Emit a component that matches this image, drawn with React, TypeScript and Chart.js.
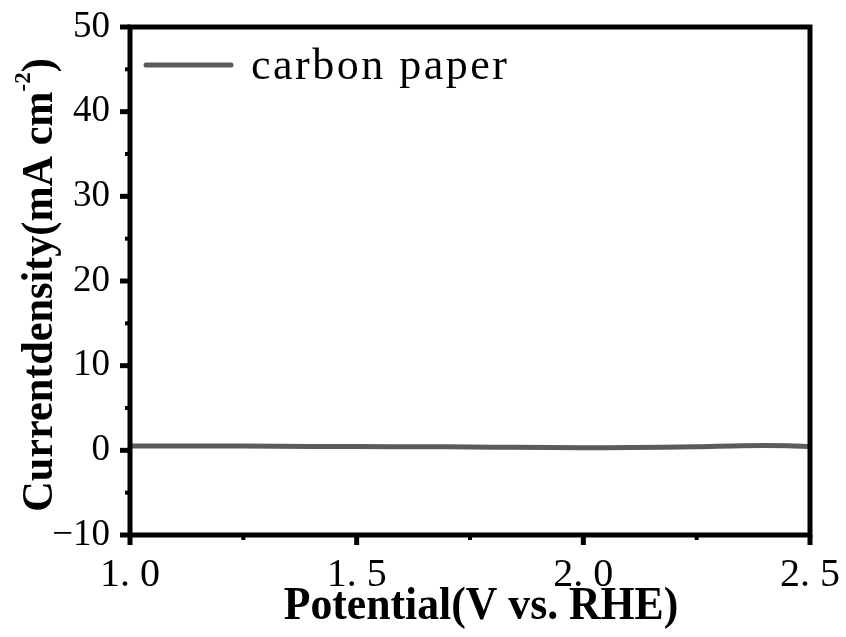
import React, { useEffect, useRef } from "react";
import { Chart, registerables } from "chart.js";

Chart.register(...registerables);

const potential = [1.0, 1.1, 1.25, 1.4, 1.5, 1.65, 1.75, 1.85, 2.0, 2.1, 2.25, 2.35, 2.45, 2.5];
const currentDensity = [0.5, 0.5, 0.5, 0.45, 0.45, 0.42, 0.4, 0.35, 0.3, 0.32, 0.42, 0.55, 0.55, 0.45];
const xTickLabels = ["1. 0", "1. 5", "2. 0", "2. 5"];
const yTickLabels = ["\u221210", "0", "10", "20", "30", "40", "50"];
const seriesName = "carbon paper";
const xTitle = "Potential(V vs. RHE)";
const yTitleMain = "Currentdensity(mA cm";
const yTitleSup = "-2";
const yTitleEnd = ")";

const framePlugin = {
  id: "framePlugin",
  afterDraw(chart: any) {
    const { ctx, chartArea } = chart;
    const { left, right, top, bottom } = chartArea;
    const xs = chart.scales.x;
    const ys = chart.scales.y;
    ctx.save();
    // ticks
    ctx.strokeStyle = "#000";
    ctx.lineCap = "butt";
    for (let v = -10; v <= 50; v += 5) {
      const p = ys.getPixelForValue(v);
      const major = v % 10 === 0;
      ctx.lineWidth = major ? 5 : 4;
      ctx.beginPath();
      ctx.moveTo(left - (major ? 10 : 5), p);
      ctx.lineTo(left, p);
      ctx.stroke();
    }
    for (let i = 0; i <= 6; i++) {
      const v = 1 + i * 0.25;
      const p = xs.getPixelForValue(v);
      const major = i % 2 === 0;
      ctx.lineWidth = major ? 5 : 4;
      ctx.beginPath();
      ctx.moveTo(p, bottom);
      ctx.lineTo(p, bottom + (major ? 10 : 5));
      ctx.stroke();
    }
    // frame
    ctx.lineWidth = 5;
    ctx.strokeRect(left, top, right - left, bottom - top);

    // legend
    ctx.strokeStyle = "#5b5b5b";
    ctx.lineWidth = 5;
    ctx.lineCap = "round";
    ctx.beginPath();
    ctx.moveTo(left + 16, top + 38);
    ctx.lineTo(left + 101, top + 38);
    ctx.stroke();
    ctx.fillStyle = "#000";
    ctx.font = "44px 'Liberation Serif'";
    (ctx as any).letterSpacing = "2.5px";
    ctx.textAlign = "left";
    ctx.textBaseline = "alphabetic";
    ctx.fillText(seriesName, left + 121, top + 52);
    (ctx as any).letterSpacing = "0px";

    // x title
    ctx.font = "bold 46px 'Liberation Serif'";
    ctx.save();
    ctx.translate((left + right) / 2 + 11, 619);
    ctx.scale(0.95, 1);
    ctx.textAlign = "center";
    ctx.fillText(xTitle, 0, 0);
    ctx.restore();

    // y title
    ctx.save();
    ctx.translate(52, (top + bottom) / 2 + 4);
    ctx.rotate(-Math.PI / 2);
    ctx.scale(0.96, 1);
    ctx.font = "bold 44px 'Liberation Serif'";
    const w1 = ctx.measureText(yTitleMain).width;
    const w3 = ctx.measureText(yTitleEnd).width;
    ctx.font = "bold 24px 'Liberation Serif'";
    const w2 = ctx.measureText(yTitleSup).width;
    const total = w1 + w2 + w3;
    let x = -total / 2;
    ctx.textAlign = "left";
    ctx.font = "bold 44px 'Liberation Serif'";
    ctx.fillText(yTitleMain, x, 0);
    x += w1;
    ctx.font = "bold 24px 'Liberation Serif'";
    ctx.fillText(yTitleSup, x, -22);
    x += w2;
    ctx.font = "bold 44px 'Liberation Serif'";
    ctx.fillText(yTitleEnd, x, 0);
    ctx.restore();

    ctx.restore();
  },
};

export default function App() {
  const ref = useRef<HTMLCanvasElement>(null);
  useEffect(() => {
    if (!ref.current) return;
    const chart = new Chart(ref.current, {
      type: "line",
      data: {
        datasets: [
          {
            label: seriesName,
            data: potential.map((x, i) => ({ x, y: currentDensity[i] })),
            borderColor: "#5b5b5b",
            borderWidth: 5,
            pointRadius: 0,
            tension: 0.3,
            fill: false,
          },
        ],
      },
      options: {
        animation: false,
        responsive: false,
        layout: { padding: { top: 27, right: 36, left: 0, bottom: 0 } },
        plugins: { legend: { display: false }, tooltip: { enabled: false } },
        scales: {
          x: {
            type: "linear",
            min: 1,
            max: 2.5,
            grid: { display: false, drawTicks: false },
            border: { display: false },
            ticks: {
              stepSize: 0.5,
              padding: 16,
              color: "#000",
              font: { family: "'Liberation Serif'", size: 40 },
              maxRotation: 0,
              autoSkip: false,
              callback: (v: any) => {
                const idx = Math.round((Number(v) - 1) / 0.5);
                return xTickLabels[idx] ?? "";
              },
            },
            afterFit: (s: any) => {
              s.height = 102;
              s.paddingLeft = 0;
              s.paddingRight = 0;
            },
          },
          y: {
            type: "linear",
            min: -10,
            max: 50,
            grid: { display: false, drawTicks: false },
            border: { display: false },
            ticks: {
              stepSize: 10,
              padding: 20,
              color: "#000",
              font: { family: "'Liberation Serif'", size: 37 },
              autoSkip: false,
              callback: (v: any) => {
                const idx = Math.round((Number(v) + 10) / 10);
                return yTickLabels[idx] ?? "";
              },
            },
            afterFit: (s: any) => {
              s.width = 130;
              s.paddingTop = 0;
              s.paddingBottom = 0;
            },
          },
        },
      },
      plugins: [framePlugin],
    });
    return () => chart.destroy();
  }, []);
  return (
    <div style={{ position: "absolute", left: 0, top: 0, width: 846, height: 637, background: "#fff" }}>
      <canvas ref={ref} width={846} height={637} style={{ display: "block" }} />
    </div>
  );
}
